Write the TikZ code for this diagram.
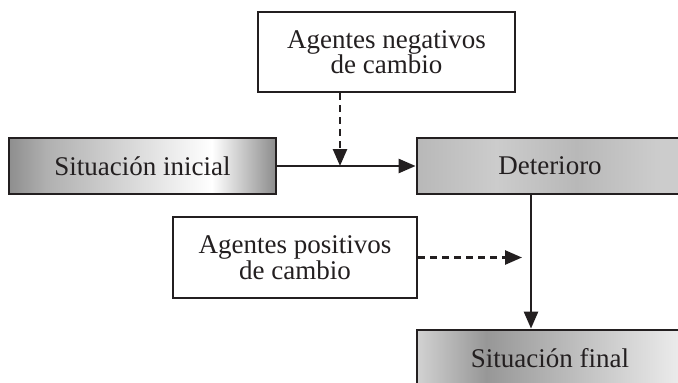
\documentclass[tikz,border=0pt]{standalone}
\usepackage{fontspec}
\setmainfont{Liberation Serif}
\usetikzlibrary{arrows.meta,calc}
\definecolor{ink}{HTML}{231F20}
\definecolor{iniA}{HTML}{8E8E8E}
\definecolor{iniB}{HTML}{B0B0B0}
\definecolor{iniC}{HTML}{FFFFFF}
\definecolor{iniD}{HTML}{8C8C8C}
\definecolor{finA}{HTML}{D2D2D2}
\definecolor{finB}{HTML}{979797}
\definecolor{finC}{HTML}{EDEDED}
\definecolor{detA}{HTML}{CCCCCC}
\definecolor{detB}{HTML}{B8B8B8}
\pgfdeclarehorizontalshading{inishade}{100bp}{color(0bp)=(iniA); color(25bp)=(iniA); color(32bp)=(iniB); color(63bp)=(iniC); color(75bp)=(iniD); color(100bp)=(iniD)}
\pgfdeclarehorizontalshading{finshade}{100bp}{color(0bp)=(finA); color(25bp)=(finA); color(38bp)=(finB); color(75bp)=(finC); color(100bp)=(finC)}
\pgfdeclarehorizontalshading{detshade}{100bp}{color(0bp)=(detB); color(25bp)=(detB); color(40bp)=(detA); color(55bp)=(detB); color(70bp)=(detA); color(100bp)=(detA)}
\tikzset{
  box/.style={draw=ink, line width=2.8pt, inner sep=0pt, align=center, text=ink,
    font=\fontsize{27}{24}\selectfont},
  conn/.style={draw=ink, line width=2.6pt, -{Triangle[length=17pt,width=14pt]}},
  dconn/.style={conn, dash pattern=on 7pt off 5pt}
}
\begin{document}
\begin{tikzpicture}[x=1pt,y=-1pt]
\clip (0,0) rectangle (678,383);
\fill[white] (0,0) rectangle (678,383);
\node[box, minimum width=257pt, minimum height=80pt] (neg) at (386.5,52) {Agentes negativos\\de cambio};
\node[box, shading=inishade, minimum width=267pt, minimum height=56pt] (ini) at (142.5,166) {Situación inicial};
\node[box, shading=detshade, minimum width=266pt, minimum height=56pt] (det) at (550,166) {Deterioro};
\node[box, minimum width=244pt, minimum height=81pt] (pos) at (295,257.5) {Agentes positivos\\de cambio};
\node[box, shading=finshade, minimum width=266pt, minimum height=56pt] (fin) at (550,358) {Situación final};
\coordinate (m) at (340,166);
\coordinate (vx) at (531,0);
\coordinate (pt) at (522,257.5);
\draw[conn] (ini.east) -- (det.west);
\draw[dconn] (neg.south -| m) -- (m);
\draw[conn] (det.south -| vx) -- (fin.north -| vx);
\draw[dconn] (pos.east) -- (pt);
\end{tikzpicture}
\end{document}
